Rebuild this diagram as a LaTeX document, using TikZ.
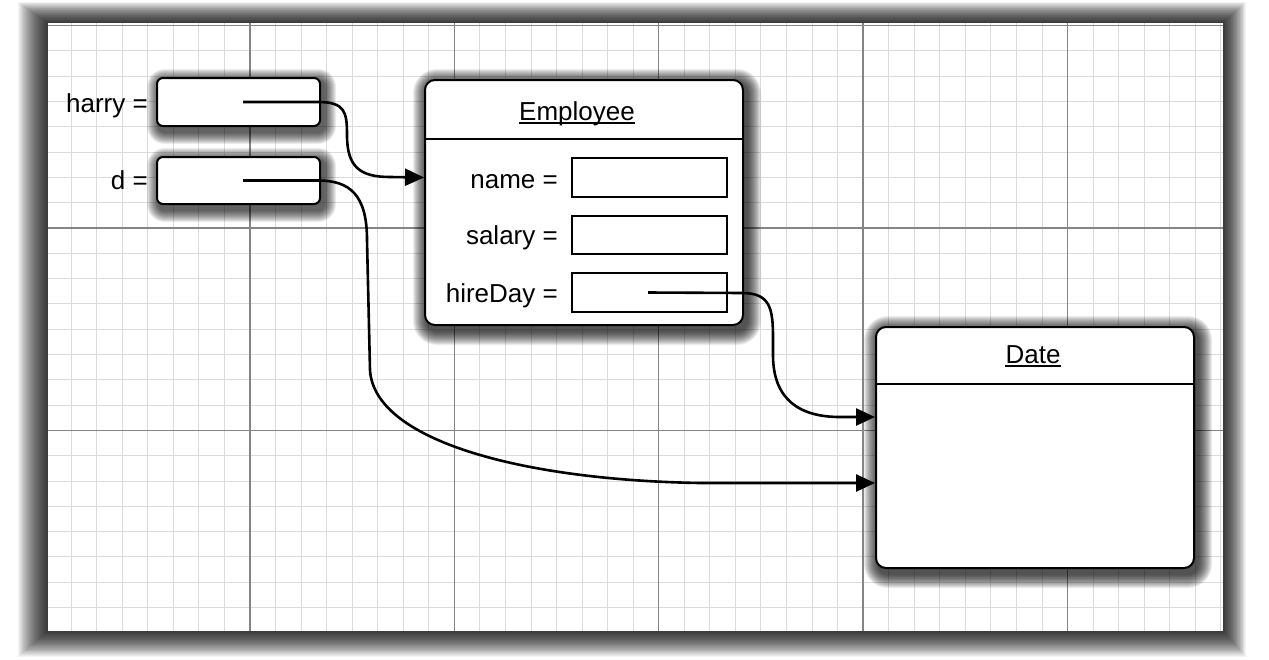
\documentclass[tikz,border=0pt]{standalone}
\usepackage{fontspec}
\setmainfont{Liberation Sans}
\usetikzlibrary{arrows.meta,calc,backgrounds}
\tikzset{
  lbl/.style={font=\fontsize{26}{30}\selectfont, inner sep=0pt},
  refbox/.style={draw, line width=2pt, rounded corners=6pt, fill=white, inner sep=0pt},
  classbox/.style={draw, line width=2pt, rounded corners=10pt, fill=white, inner sep=0pt},
  fieldbox/.style={draw, line width=2pt, fill=white, inner sep=0pt},
  ptr/.style={line width=2.6pt, -{Triangle[length=19pt,width=17pt]}},
  minorgrid/.style={black!14, line width=0.9pt},
  majorgrid/.style={black!48, line width=1.3pt},
  divider/.style={line width=2pt},
}
\newcommand\boxshade[4]{%
  \foreach \k in {1,...,#3}{%
    \pgfmathsetmacro\rr{#2+\k}%
    \fill[black,opacity=#4,rounded corners=\rr pt]
      ($(#1.north west)+(-\k pt+3pt,\k pt-4pt)$) rectangle
      ($(#1.south east)+(\k pt+3pt,-\k pt-5pt)$);
  }}
\begin{document}
\begin{tikzpicture}[x=1pt,y=-1pt]
\useasboundingbox (0,0) rectangle (1269,659);
\begin{pgfonlayer}{background}
\fill[white] (0,0) rectangle (1269,659);
% panel shadow
\foreach \k in {1,...,30}{
  \fill[black,opacity=0.042] (48-1.0*\k,23-0.7*\k) rectangle (1223+0.75*\k,631+0.85*\k);
}
\fill[white] (48,23) rectangle (1223,631);
\begin{scope}
  \clip (48,23) rectangle (1223,631);
  \foreach \i in {0,...,47} \draw[minorgrid] (45.5+\i*25.55,23) -- ++(0,608);
  \foreach \j in {0,...,24} \draw[minorgrid] (48,25.6+\j*25.3) -- ++(1175,0);
  \foreach \i in {0,...,6} \draw[majorgrid] (45.5+\i*204.4,23) -- ++(0,608);
  \foreach \j in {0,...,3} \draw[majorgrid] (48,25.6+\j*202.4) -- ++(1175,0);
\end{scope}
\end{pgfonlayer}

% reference boxes
\node[refbox, minimum width=163pt, minimum height=48pt] (harry) at (238.5,102) {};
\node[refbox, minimum width=163pt, minimum height=47pt] (d) at (238.5,180.5) {};
\node[lbl, anchor=base east] (harrylbl) at (148,112) {harry =};
\node[lbl, anchor=base east] (dlbl) at (148,189) {d =};

% Employee object
\node[classbox, minimum width=318pt, minimum height=245pt] (emp) at (584,202.5) {};
\node[lbl, anchor=base] (emptitle) at (577,120) {Employee};
\draw[line width=1.2pt] ([yshift=-3pt]emptitle.base west) -- ([yshift=-3pt]emptitle.base east);
\coordinate (empdiv) at (0,139);
\draw[divider] (emp.west |- empdiv) -- (emp.east |- empdiv);
\node[fieldbox, minimum width=155pt, minimum height=39pt] (namef) at (649.5,177.5) {};
\node[fieldbox, minimum width=155pt, minimum height=38pt] (salaryf) at (649.5,235) {};
\node[fieldbox, minimum width=155pt, minimum height=39pt] (hiref) at (649.5,292.5) {};
\node[lbl, anchor=base east] (namelbl) at (558,188) {name =};
\node[lbl, anchor=base east] (salarylbl) at (558,244) {salary =};
\node[lbl, anchor=base east] (hirelbl) at (558,302) {hireDay =};

% Date object
\node[classbox, minimum width=318pt, minimum height=241pt] (date) at (1035,447.5) {};
\node[lbl, anchor=base] (datetitle) at (1033,363) {Date};
\draw[line width=1.2pt] ([yshift=-3pt]datetitle.base west) -- ([yshift=-3pt]datetitle.base east);
\coordinate (datediv) at (0,384);
\draw[divider] (date.west |- datediv) -- (date.east |- datediv);

% shadows
\begin{pgfonlayer}{background}
\boxshade{harry}{6}{12}{0.075}
\boxshade{d}{6}{12}{0.075}
\boxshade{emp}{10}{14}{0.075}
\boxshade{date}{10}{14}{0.075}
\end{pgfonlayer}

% connectors
\coordinate (dup) at (0,417);
\coordinate (dlow) at (0,483);
\draw[ptr] ([xshift=4.5pt]harry.center) -- (318,102)
  .. controls (345,102) and (347,112) .. (347,135)
  .. controls (347,167) and (360,177) .. (390,177)
  -- (emp.west |- namef.center);
\draw[ptr] ([xshift=4.5pt]d.center) -- (318,180.5)
  .. controls (350,180.5) and (367,195) .. (367,240)
  -- (370,370)
  .. controls (374,440) and (520,480) .. (700,483)
  -- (date.west |- dlow);
\draw[ptr] ([xshift=-1.5pt]hiref.center) -- (742,293)
  .. controls (770,293) and (773,308) .. (773,338)
  -- (773,355)
  .. controls (773,400) and (800,417) .. (840,417)
  -- (date.west |- dup);
\end{tikzpicture}
\end{document}
